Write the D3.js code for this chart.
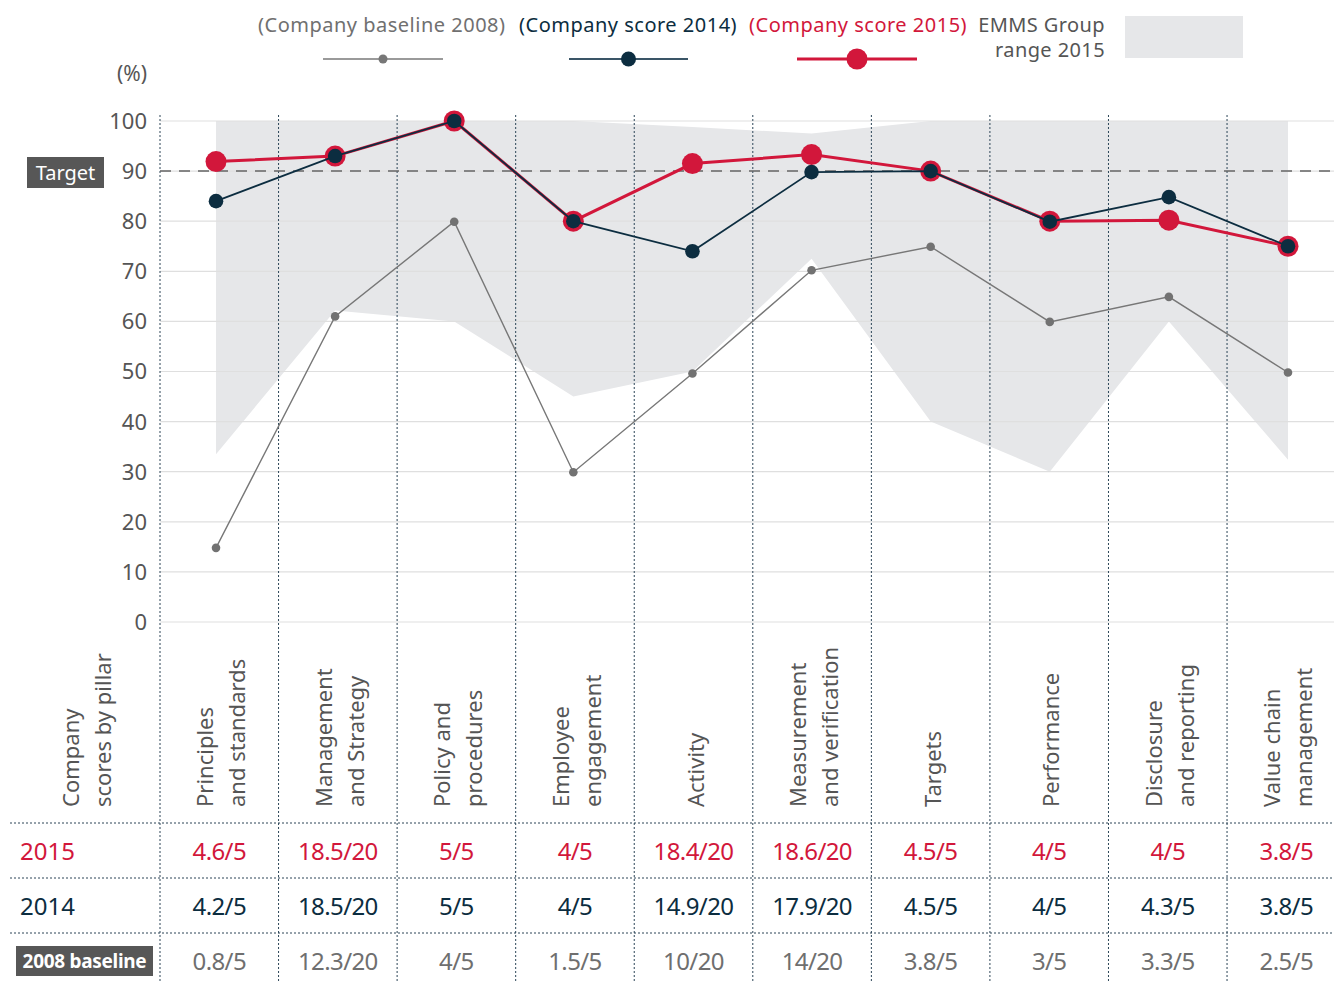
<!DOCTYPE html>
<html><head><meta charset="utf-8">
<script src="https://cdn.jsdelivr.net/npm/d3@7"></script>
<style>
body{margin:0;background:#fff}
svg{display:block}
text{font-family:"Noto Sans",sans-serif}
</style>
</head><body>
<svg id="c" width="1334" height="981"></svg>
<script>
// ---------- data ----------
const categories = ["Principles and standards","Management and Strategy","Policy and procedures","Employee engagement","Activity","Measurement and verification","Targets","Performance","Disclosure and reporting","Value chain management"];
const categoryLines = [["Principles","and standards"],["Management","and Strategy"],["Policy and","procedures"],["Employee","engagement"],["Activity"],["Measurement","and verification"],["Targets"],["Performance"],["Disclosure","and reporting"],["Value chain","management"]];
const score2015 = [91.9,93,100,80,91.5,93.3,90,80,80.2,75];
const score2014 = [84,93,100,80,74,89.8,90,79.9,84.8,75];
const baseline2008 = [14.8,61,79.9,29.9,49.6,70.2,74.9,59.9,64.9,49.8];
const rangeHigh = [100,100,100,100,98.8,97.5,100,100,100,100];
const rangeLow = [33.5,62.2,60,45,50,72.5,40,30,60,32.4];
const table2015 = ["4.6/5","18.5/20","5/5","4/5","18.4/20","18.6/20","4.5/5","4/5","4/5","3.8/5"];
const table2014 = ["4.2/5","18.5/20","5/5","4/5","14.9/20","17.9/20","4.5/5","4/5","4.3/5","3.8/5"];
const table2008 = ["0.8/5","12.3/20","4/5","1.5/5","10/20","14/20","3.8/5","3/5","3.3/5","2.5/5"];
const yTicks = [0,10,20,30,40,50,60,70,80,90,100];
const targetValue = 90;
const legendLabels = ["(Company baseline 2008)","(Company score 2014)","(Company score 2015)"];
const rowLabels = ["2015","2014","2008 baseline"];

// ---------- colours ----------
const RED = "#d2173b", NAVY = "#0c2d40", GREY = "#727272", BAND = "#e6e7e9", TXT = "#555";

const svg = d3.select("#c");
const y = d3.scaleLinear().domain([0,100]).range([622,121]);
const xCol = d3.scaleBand().domain(categories).range([160, 160 + 10*118.56]);
const xPt = d3.scalePoint().domain(categories).range([216,1288]);
const center = c => xCol(c) + xCol.bandwidth()/2;

// band (EMMS group range)
const area = d3.area().x((d,i)=>xPt(categories[i])).y0((d,i)=>y(rangeLow[i])).y1((d,i)=>y(rangeHigh[i]));
svg.append("path").attr("d", area(categories)).attr("fill", BAND);

// gridlines
svg.append("g").selectAll("line").data(yTicks).join("line")
  .attr("x1",160).attr("x2",1334).attr("y1",d=>y(d)).attr("y2",d=>y(d))
  .attr("stroke","#dfdfdf").attr("stroke-width",1.2);

// y tick labels
svg.append("g").selectAll("text").data(yTicks).join("text")
  .attr("x",147).attr("y",d=>y(d)).attr("dy","0.36em").attr("text-anchor","end")
  .attr("font-size",22).attr("fill",TXT).text(d=>d);
svg.append("text").attr("x",147).attr("y",81).attr("text-anchor","end").attr("font-size",21).attr("fill",TXT).text("(%)");

// vertical dotted separators
svg.append("g").selectAll("line").data(categories).join("line")
  .attr("x1",d=>xCol(d)).attr("x2",d=>xCol(d)).attr("y1",115).attr("y2",981)
  .attr("stroke","#2c4557").attr("stroke-width",1).attr("stroke-dasharray","2,2");

// target line
svg.append("line").attr("x1",160).attr("x2",1334).attr("y1",y(targetValue)).attr("y2",y(targetValue))
  .attr("stroke","#666").attr("stroke-width",1.5).attr("stroke-dasharray","11,8");
svg.append("rect").attr("x",27).attr("y",157).attr("width",77).attr("height",31).attr("fill","#575757");
svg.append("text").attr("x",65.5).attr("y",180).attr("text-anchor","middle").attr("font-size",20).attr("fill","#fff").text("Target");

// lines
const line = vals => d3.line().x((d,i)=>xPt(categories[i])).y((d,i)=>y(vals[i]))(categories);
svg.append("path").attr("d",line(baseline2008)).attr("fill","none").attr("stroke","#777").attr("stroke-width",1.4);
svg.append("g").selectAll("circle").data(baseline2008).join("circle")
  .attr("cx",(d,i)=>xPt(categories[i])).attr("cy",d=>y(d)).attr("r",4.3).attr("fill",GREY);
svg.append("path").attr("d",line(score2015)).attr("fill","none").attr("stroke",RED).attr("stroke-width",3);
svg.append("g").selectAll("circle").data(score2015).join("circle")
  .attr("cx",(d,i)=>xPt(categories[i])).attr("cy",d=>y(d)).attr("r",10.5).attr("fill",RED);
svg.append("path").attr("d",line(score2014)).attr("fill","none").attr("stroke",NAVY).attr("stroke-width",1.8);
svg.append("g").selectAll("circle").data(score2014).join("circle")
  .attr("cx",(d,i)=>xPt(categories[i])).attr("cy",d=>y(d)).attr("r",7.3).attr("fill",NAVY);

// legend
const legX = [258,519,749];
const legCol = ["#707070",NAVY,RED];
legendLabels.forEach((t,i)=>{
  svg.append("text").attr("x",legX[i]).attr("y",32).attr("font-size",20).attr("letter-spacing","0.5").attr("fill",legCol[i]).text(t);
});
const legLines = [[323,443,"#9a9a9a",2,4.5,"#777"],[569,688,"#3a5567",2,7.5,NAVY],[797,917,RED,3,10.5,RED]];
legLines.forEach(([a,b,c,w,r,f])=>{
  svg.append("line").attr("x1",a).attr("x2",b).attr("y1",59).attr("y2",59).attr("stroke",c).attr("stroke-width",w);
  svg.append("circle").attr("cx",(a+b)/2).attr("cy",59).attr("r",r).attr("fill",f);
});
svg.append("text").attr("x",1105).attr("y",32).attr("text-anchor","end").attr("font-size",20).attr("letter-spacing","0.4").attr("fill",TXT).text("EMMS Group");
svg.append("text").attr("x",1105).attr("y",57).attr("text-anchor","end").attr("font-size",20).attr("letter-spacing","0.4").attr("fill",TXT).text("range 2015");
svg.append("rect").attr("x",1125).attr("y",16).attr("width",118).attr("height",42).attr("fill",BAND);

// category labels (rotated)
function rotLabel(cx, lines){
  const g = svg.append("g").attr("transform",`translate(0,807) rotate(-90)`);
  const n = lines.length;
  lines.forEach((t,i)=>{
    g.append("text").attr("x",0).attr("y",cx + 10 + (i-(n-1)/2)*32)
      .attr("font-size",22).attr("fill",TXT).text(t);
  });
}
rotLabel(85, ["Company","scores by pillar"]);
categories.forEach((c,i)=>rotLabel(center(c), categoryLines[i]));

// table
[823,878,933].forEach(yy=>{
  svg.append("line").attr("x1",10).attr("x2",1334).attr("y1",yy).attr("y2",yy)
    .attr("stroke","#2c4557").attr("stroke-width",1).attr("stroke-dasharray","2,2");
});
const rows = [[table2015,RED,860],[table2014,NAVY,915],[table2008,"#6f6f6f",970]];
rows.forEach(([vals,col,by],r)=>{
  svg.append("g").selectAll("text").data(vals).join("text")
    .attr("x",(d,i)=>center(categories[i])).attr("y",by).attr("text-anchor","middle")
    .attr("font-size",24).attr("letter-spacing","-0.6").attr("fill",col).text(d=>d);
});
svg.append("text").attr("x",20).attr("y",860).attr("font-size",24).attr("fill",RED).text(rowLabels[0]);
svg.append("text").attr("x",20).attr("y",915).attr("font-size",24).attr("fill",NAVY).text(rowLabels[1]);
svg.append("rect").attr("x",16).attr("y",946).attr("width",137).attr("height",30).attr("fill","#575757");
svg.append("text").attr("x",84.5).attr("y",968).attr("text-anchor","middle").attr("font-size",19).attr("font-weight","bold").attr("letter-spacing","-0.3").attr("fill","#fff").text(rowLabels[2]);
</script>
</body></html>
